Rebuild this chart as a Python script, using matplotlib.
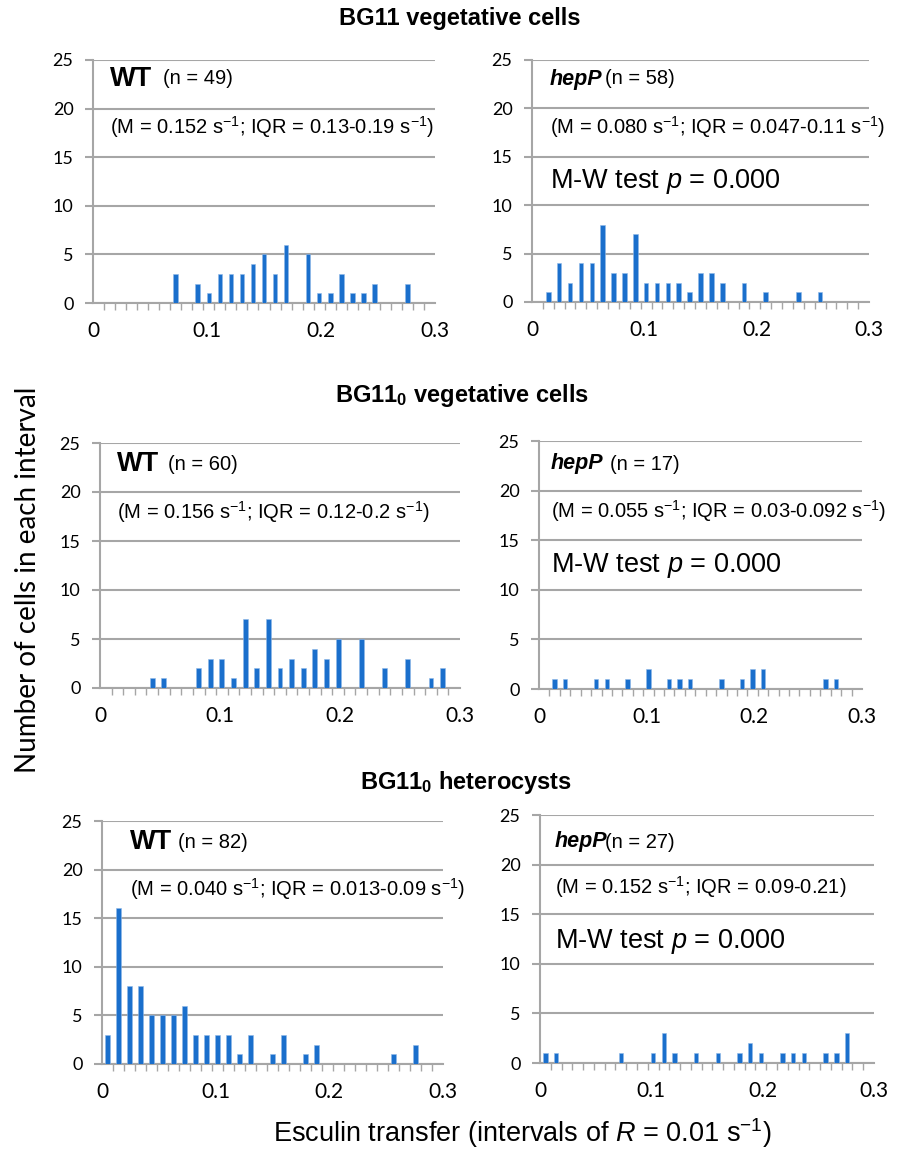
import numpy as np
import matplotlib
matplotlib.use("Agg")
import matplotlib.pyplot as plt

plt.rcParams['font.family'] = ['Liberation Sans', 'DejaVu Sans']
plt.rcParams['mathtext.fontset'] = 'custom'
plt.rcParams['mathtext.rm'] = 'Liberation Sans'
plt.rcParams['mathtext.it'] = 'Liberation Sans:italic'
plt.rcParams['mathtext.bf'] = 'Liberation Sans:bold'

# counts per 0.01 s-1 interval (31 categories, 0.00 .. 0.30)
wt_bg11 = [0, 0, 0, 0, 0, 0, 0, 3, 0, 2, 1, 3, 3, 3, 4, 5, 3, 6, 0, 5, 1, 1, 3, 1, 1, 2, 0, 0, 2, 0, 0]
hepp_bg11 = [0, 1, 4, 2, 4, 4, 8, 3, 3, 7, 2, 2, 2, 2, 1, 3, 3, 2, 0, 2, 0, 1, 0, 0, 1, 0, 1, 0, 0, 0, 0]
wt_bg110 = [0, 0, 0, 0, 1, 1, 0, 0, 2, 3, 3, 1, 7, 2, 7, 2, 3, 2, 4, 3, 5, 0, 5, 0, 2, 0, 3, 0, 1, 2, 0]
hepp_bg110 = [0, 1, 1, 0, 0, 1, 1, 0, 1, 0, 2, 0, 1, 1, 1, 0, 0, 1, 0, 1, 2, 2, 0, 0, 0, 0, 0, 1, 1, 0, 0]
wt_het = [3, 16, 8, 8, 5, 5, 5, 6, 3, 3, 3, 3, 1, 3, 0, 1, 3, 0, 1, 2, 0, 0, 0, 0, 0, 0, 1, 0, 2, 0, 0]
hepp_het = [1, 1, 0, 0, 0, 0, 0, 1, 0, 0, 1, 3, 1, 0, 1, 0, 1, 0, 1, 2, 1, 0, 1, 1, 1, 0, 1, 1, 3, 0, 0]

strains = ['WT', 'hepP', 'WT', 'hepP', 'WT', 'hepP']
n_labels = ['(n = 49)', '(n = 58)', '(n = 60)', '(n = 17)', '(n = 82)', '(n = 27)']
stats = ['(M = 0.152 s$^{-1}$; IQR = 0.13-0.19 s$^{-1}$)',
         '(M = 0.080 s$^{-1}$; IQR = 0.047-0.11 s$^{-1}$)',
         '(M = 0.156 s$^{-1}$; IQR = 0.12-0.2 s$^{-1}$)',
         '(M = 0.055 s$^{-1}$; IQR = 0.03-0.092 s$^{-1}$)',
         '(M = 0.040 s$^{-1}$; IQR = 0.013-0.09 s$^{-1}$)',
         '(M = 0.152 s$^{-1}$; IQR = 0.09-0.21)']
titles = ['BG11 vegetative cells', 'BG11$_\\mathbf{0}$ vegetative cells', 'BG11$_\\mathbf{0}$ heterocysts']
xtick_vals = [0, 0.1, 0.2, 0.3]
xtick_labels = ['0', '0.1', '0.2', '0.3']
yticks = [0, 5, 10, 15, 20, 25]

W, H = 898, 1155
fig = plt.figure(figsize=(W / 100, H / 100), dpi=100)


def fx(x):
    return x / W


def fy(y):
    return 1 - y / H


# panel boxes in pixels: left, right, top(25), bottom(0)
boxes = [(93, 435, 60, 303), (532, 869, 60, 302),
         (100, 460, 443, 688), (539, 862, 441, 689),
         (102, 443, 821, 1064), (540, 874, 815, 1063)]
# text anchors (left x, strain y, n-label x, stats y, M-W y)
text_pos = [(110, 79, 163, 127, 182), (550, 79, 605, 127, 182),
            (117, 464, 168, 512, 565), (551, 464, 610, 511, 565),
            (130, 842, 178, 889, 942), (555, 842, 605, 887, 942)]

data = [wt_bg11, hepp_bg11, wt_bg110, hepp_bg110, wt_het, hepp_het]
ncat = 31
step = 0.3 / ncat
grey = '#a6a6a6'
blue = '#1a6fcc'

for k, counts in enumerate(data):
    l, r, t, b = boxes[k]
    ax = fig.add_axes([fx(l), fy(b), fx(r - l), (b - t) / H])
    xs = (np.arange(ncat) + 0.5) * step
    ax.bar(xs, counts, width=step * 0.42, color=blue, edgecolor='#8fb8e8', linewidth=0.4, zorder=3)
    ax.set_xlim(0, 0.3)
    ax.set_ylim(0, 25)
    ax.set_yticks(yticks)
    ax.yaxis.grid(True, color=grey, linewidth=1.5, zorder=0)
    ax.set_xticks(xtick_vals)
    ax.set_xticklabels(xtick_labels)
    ax.set_xticks(np.arange(ncat + 1) * step, minor=True)
    ax.tick_params(axis='x', which='major', length=0, pad=13, labelsize=15)
    ax.tick_params(axis='x', which='minor', length=5, color=grey, width=1)
    ax.tick_params(axis='y', length=6, color=grey, width=1.5, pad=8, labelsize=13)
    for lab in ax.get_xticklabels() + ax.get_yticklabels():
        lab.set_fontfamily('Lato')
    for s in ['top', 'right']:
        ax.spines[s].set_visible(False)
    ax.spines['left'].set_color(grey)
    ax.spines['left'].set_linewidth(1.5)
    ax.spines['bottom'].set_color(grey)
    ax.spines['bottom'].set_linewidth(1.5)

    tx, ty, nx, sy, my = text_pos[k]
    if strains[k] == 'WT':
        fig.text(fx(tx), fy(ty), 'WT', fontsize=19.5, fontweight='bold', va='center')
    else:
        fig.text(fx(tx), fy(ty), 'hepP', fontsize=15.5, fontweight='bold', style='italic', va='center')
    fig.text(fx(nx), fy(ty), n_labels[k], fontsize=14.5, va='center')
    fig.text(fx(tx), fy(sy), stats[k], fontsize=14.5, va='center')
    if strains[k] == 'hepP':
        fig.text(fx(tx), fy(my), 'M-W test $p$ = 0.000', fontsize=19.5, va='center')

fig.text(fx(460), fy(18), titles[0], fontsize=17, fontweight='bold', ha='center', va='center')
fig.text(fx(462), fy(395), titles[1], fontsize=17, fontweight='bold', ha='center', va='center')
fig.text(fx(466), fy(782), titles[2], fontsize=17, fontweight='bold', ha='center', va='center')

fig.text(fx(28), fy(580), 'Number of cells in each interval', fontsize=20, rotation=90,
         ha='center', va='center', family='Lato')
fig.text(fx(522), fy(1133), 'Esculin transfer (intervals of $R$ = 0.01 s$^{-1}$)', fontsize=19.5,
         ha='center', va='center')

fig.savefig('out.png', dpi=100)
